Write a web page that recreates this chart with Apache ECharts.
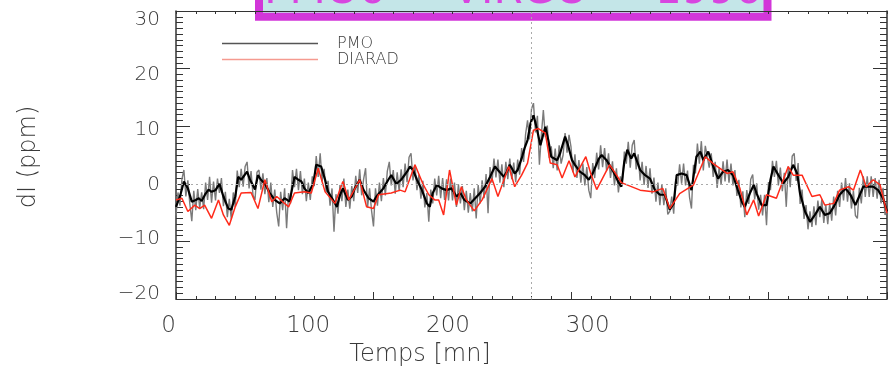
<!DOCTYPE html>
<html>
<head>
<meta charset="utf-8">
<script src="https://cdn.jsdelivr.net/npm/echarts@6/dist/echarts.min.js"></script>
<style>
  html, body { margin: 0; padding: 0; background: #fff; }
  #chart { width: 889px; height: 374px; }
</style>
</head>
<body>
<div id="chart"></div>
<script>
// Raw PMO irradiance deviation, one sample per minute (ppm)
const RAW_STEP = 1;
const pmoRaw = [
  -5.5, -1.5, -3.8, 0.8, 2.4, -2.2, 0.6, -3.5, -6.5, -1.2,
  -4.6, -0.9, -4.2, -1.5, -4.4, 0.2, -2.8, 1.2, -3.3, 0.4,
  -2.9, 0.9, -1.6, 1.0, -3.9, -1.4, -5.8, -2.6, -6.2, -1.5,
  -4.0, 2.3, -0.6, 2.6, -0.5, 3.0, 3.8, -0.8, 2.2, -2.0,
  -2.8, 2.0, 2.4, -1.0, 1.8, -1.8, 1.0, -3.2, 0.2, -4.0,
  -1.0, -5.0, -7.4, -1.4, -4.6, -0.8, -7.7, -1.6, -3.4, 2.4,
  -0.6, 2.6, -1.1, 2.2, -1.8, 0.9, -3.0, 0.2, -2.8, 1.3,
  -0.4, 4.8, 1.2, 5.3, 0.4, 2.6, -1.5, 0.5, -3.8, -0.8,
  -8.3, -1.8, -5.2, -0.2, -3.0, 0.9, -4.0, -1.0, -4.3, -0.4,
  -3.0, 1.4, -1.6, 2.5, -2.0, 0.8, 2.7, -4.1, -0.8, -4.6,
  -7.4, -0.8, -3.8, 0.2, -3.0, 1.0, -2.0, 2.2, 3.8, -0.3,
  2.4, -1.7, 2.0, -1.3, 2.5, -0.6, 3.5, 0.3, 4.6, 5.3,
  0.6, 3.3, -1.1, 1.6, -2.6, 0.5, -4.1, -1.6, -6.6, -1.0,
  -3.4, 0.9, -2.0, 1.4, -2.5, 1.0, -2.8, 0.8, -2.9, 0.9,
  -2.9, 0.2, -4.0, -0.1, -3.4, -0.4, -4.6, -1.2, -5.0, -1.6,
  -4.8, -0.8, -6.0, -0.2, -3.4, 0.6, -2.5, 1.7, -5.1, 2.9,
  0.2, 4.4, 1.1, 4.2, 0.2, 3.4, -0.6, 3.8, 0.8, 4.4,
  0.8, 3.7, 0.3, 4.2, 1.6, 6.2, 3.8, 8.6, 11.0, 7.7,
  13.0, 14.0, 8.9, 11.8, 3.3, 8.5, 12.8, 8.1, 10.1, 4.5,
  6.5, 2.7, 6.1, 2.3, 6.7, 3.5, 5.0, 8.8, 5.4, 8.5,
  6.4, 2.0, 5.1, 1.0, 4.1, 0.2, 3.5, -0.3, 2.9, -1.1,
  -2.5, 3.6, 1.0, 5.4, 2.5, 6.7, 2.9, 6.2, 2.3, 5.3,
  1.0, 3.9, -0.3, 2.7, -1.5, 1.3, -0.2, 5.6, 3.5, 7.3,
  2.8, 6.7, 7.6, 2.5, 5.1, 0.6, 3.8, -0.2, 3.1, -0.7,
  2.7, -1.7, 1.1, -3.1, 0.2, -3.7, -0.1, -3.7, -0.8, -5.3,
  -4.8, -2.2, -5.2, 0.8, -0.3, 3.4, 0.0, 3.5, -0.3, 2.3,
  -2.3, -4.3, 3.3, 1.8, 7.0, 3.5, 7.4, 2.3, 6.6, 6.7,
  2.8, 5.3, 1.2, 3.8, -0.7, 2.8, -0.2, 3.9, 0.4, 4.2,
  0.2, 3.5, -0.3, 2.4, -2.1, 0.7, -4.1, -1.3, -5.8, -1.1,
  -3.5, 0.8, 1.6, -2.7, 0.1, -4.5, -1.9, -5.5, -1.9, -7.2,
  0.3, -1.1, 4.0, 1.2, 4.0, -0.3, 2.8, -1.3, 1.9, -4.0,
  3.0, -0.6, 4.8, 5.3, 0.5, 3.6, -3.5, -1.0, -6.1, -3.7,
  -7.9, -4.8, -7.5, -3.9, -7.2, -2.9, -5.8, -2.7, -6.8, -3.6,
  -7.0, -3.3, -6.4, -2.2, -5.5, -1.2, -4.0, 0.2, -2.9, 1.0,
  -3.1, 0.1, -4.3, -1.2, -5.5, -6.0, -0.7, -3.4, 1.3, -2.3,
  1.3, -2.3, 1.3, -2.3, 1.0, -2.6, 0.7, -3.4, -0.7, -5.4, -4.8
];

// Smoothed PMO curve: time (mn) and deviation (ppm)
const pmoTimes = [
  0, 2, 4, 6, 8, 10, 11.5, 13, 15, 16.5, 18, 20, 22, 24, 26.5, 28, 30, 31.5, 33, 36,
  37.5, 40, 41.5, 43, 45, 47.5, 50, 52.5, 55, 57.5, 60, 62, 63.5, 65, 67, 69.5, 71, 73.5, 75.5, 77,
  80, 81.5, 83, 84.5, 87, 89, 90.5, 93, 95, 97.5, 100, 101.5, 103, 105, 107.5, 109, 111.5, 114, 117, 118.5,
  120, 122, 124.5, 127, 128.5, 130, 132, 134.5, 137, 139.5, 142, 144, 146, 149, 151.5, 154, 156.5, 159, 161.5, 163,
  166, 167.5, 169, 171.5, 173, 175, 176.5, 178, 179.5, 181, 182.5, 184.5, 187, 188.5, 190, 193, 194.5, 197, 198.5, 200.5,
  202, 204.5, 207, 209, 211, 214, 215.5, 218, 221.5, 224, 225.5, 227, 228.5, 230.5, 232, 235, 237.5, 240, 242.5, 245,
  247.5, 250, 252, 253.5, 256, 258.5, 261, 263.5, 265.5, 267, 269.5, 272, 274.5, 277, 279.5, 282, 284.5, 286.5, 288, 290.5,
  292.5, 294, 296.5, 299, 301, 302.5, 305, 307.5, 310, 312.5, 314.5, 316, 318.5, 321, 323.5, 326, 328.5, 331, 333.5, 336,
  339, 341.5, 344, 345.5, 348, 350.5, 353, 355.5, 358, 360
];
const pmoValues = [
  -4.0, -2.2, 0.4, -0.8, -3.1, -2.8, -2.5, -3.0, -1.7, -1.0, -1.4, -1.1, 0.0, -2.2, -4.3, -4.5, -2.2, 1.2, 0.7, 2.1,
  0.7, -1.0, 1.5, 0.7, 0.0, -1.6, -2.8, -3.4, -2.5, -3.1, 1.2, 0.7, 0.4, -0.8, -1.6, 0.0, 3.3, 3.0, 0.7, -1.4,
  -3.1, -4.0, -2.0, -0.8, -2.8, -2.2, -0.8, 0.7, -1.1, -2.5, -3.1, -2.2, -1.6, -0.8, 0.7, 1.5, 0.0, 0.7, 2.1, 3.0,
  2.4, 0.7, -1.1, -3.4, -4.0, -1.6, -0.2, -0.8, -1.1, -0.8, -2.2, -1.6, -2.8, -3.4, -2.5, -1.6, -0.5, 1.2, 3.0, 2.4,
  1.2, 2.1, 3.3, 1.8, 2.4, 4.4, 6.2, 7.6, 10.5, 11.9, 9.9, 6.7, 9.9, 7.6, 4.7, 4.1, 5.3, 8.2, 6.7, 4.1,
  3.3, 2.1, 1.5, 0.7, 1.8, 4.3, 5.0, 4.1, 2.1, 0.3, -0.5, 3.8, 5.9, 4.4, 5.3, 2.4, 1.5, 0.9, -1.1, -1.9,
  -1.9, -4.5, -3.4, 1.5, 1.8, 1.5, -1.1, 4.7, 5.6, 4.1, 5.6, 3.0, 0.9, 2.1, 2.4, 1.5, -1.1, -3.1, -4.0, -1.7,
  -0.2, -1.7, -3.7, -3.7, 0.7, 3.0, 1.5, 0.1, 1.2, 3.3, 1.8, -1.7, -4.8, -6.6, -5.4, -4.0, -5.4, -5.1, -3.7, -1.9,
  -0.8, -1.9, -3.7, -2.5, -0.5, -0.5, -0.5, -1.1, -2.5, -4.8
];

// DIARAD curve: time (mn) and deviation (ppm)
const diaradTimes = [
  0, 3, 6, 9.5, 12, 14.5, 18, 21.5, 24, 27, 30, 33, 38, 41.5, 45, 48.5, 51, 57, 60, 65,
  68.5, 72, 75.5, 80.5, 84.5, 87.5, 93, 96.5, 100, 102.5, 109, 113.5, 116, 121, 125, 128, 131, 133, 135.5, 138.5,
  142, 144.5, 147, 151, 155, 160, 163, 168.5, 171.5, 175, 178, 181, 183.5, 187, 189.5, 193, 195.5, 199, 202, 207.5,
  210, 213, 219.5, 222.5, 225.5, 235, 241.5, 246.5, 250, 255, 262, 268, 272, 279, 282, 285.5, 289, 292.5, 295, 299,
  304, 310, 312.5, 317, 322, 326, 328.5, 333, 336, 340.5, 343, 346.5, 349.5, 353, 356.5, 360
];
const diaradValues = [
  -2.8, -2.5, -4.8, -3.7, -4.3, -3.7, -6.0, -2.8, -5.4, -7.2, -4.0, -1.6, -1.5, -4.3, 0.7, -3.1, -2.2, -4.0, -1.6, -1.4,
  -1.6, 2.7, -1.4, -3.4, 0.4, -2.8, 0.7, -4.0, -4.3, -1.9, -1.6, -1.1, -1.4, 3.3, 0.0, -1.9, -2.8, -2.8, -5.4, 2.4,
  -3.7, -0.5, -2.8, -4.7, -2.8, 0.9, -2.2, 3.0, -0.5, 1.5, 3.6, 9.3, 9.6, 8.8, 3.6, 3.3, 1.0, 4.0, 1.2, 4.7,
  1.8, -1.0, 3.3, 1.8, 0.2, -1.1, -1.4, -0.8, -4.3, -1.7, -0.2, 4.7, 3.5, 1.8, 2.1, -0.8, -5.4, -2.8, -5.6, -1.9,
  -2.5, 3.0, 1.5, 1.5, -2.2, -1.9, -3.7, -3.4, -1.1, -0.5, -1.1, 2.4, -0.5, 0.7, -0.2, -5.1
];

// Axis ranges and tick labels
const timeRange = [0, 360];
const ppmRange = [-20, 30];
const timeTickLabels = [0, 100, 200, 300];
const ppmTickLabels = [-20, -10, 0, 10, 20, 30];

const pair = (ts, vs) => vs.map((v, i) => [ts[i], v]);
const rawData = pmoRaw.map((v, i) => [i * RAW_STEP, v]);

const FONT = '"DejaVu Sans", "Liberation Sans", sans-serif';
const INK = '#3a3a3a';
const FRAME = '#333';

const chart = echarts.init(document.getElementById('chart'), null, { renderer: 'canvas' });

// Frame axes: lines and inward ticks only, pinned to the grid edges
const frameAxisX = (pos, interval, len, showLine) => ({
  type: 'value', gridIndex: 0, position: pos,
  min: timeRange[0], max: timeRange[1], interval: interval,
  axisLine: { show: showLine, onZero: false, lineStyle: { color: FRAME, width: 1 } },
  axisTick: { show: true, inside: true, length: len, lineStyle: { color: FRAME, width: 1 } },
  axisLabel: { show: false }, splitLine: { show: false }
});
const frameAxisY = (pos, interval, len, showLine) => ({
  type: 'value', gridIndex: 0, position: pos,
  min: ppmRange[0], max: ppmRange[1], interval: interval,
  axisLine: { show: showLine, onZero: false, lineStyle: { color: FRAME, width: 1.5 } },
  axisTick: { show: true, inside: true, length: len, lineStyle: { color: FRAME, width: 1 } },
  axisLabel: { show: false }, splitLine: { show: false }
});

chart.setOption({
  animation: false,
  backgroundColor: '#ffffff',
  grid: [
    { left: 176, right: 2, top: 11, bottom: 75 },
    { left: 168.5, top: 20, width: 503, height: 274 }
  ],
  xAxis: [
    frameAxisX('bottom', 10, 3, true),
    frameAxisX('bottom', 100, 7, false),
    frameAxisX('top', 10, 3, true),
    {
      type: 'value', gridIndex: 1, position: 'bottom',
      min: timeRange[0], max: timeRange[1], interval: 100,
      axisLine: { show: false, onZero: false }, axisTick: { show: false }, splitLine: { show: false },
      axisLabel: {
        show: true, margin: 21, showMaxLabel: false,
        color: INK, fontFamily: FONT, fontWeight: 200, fontSize: 23,
        formatter: v => timeTickLabels.includes(v) ? String(v) : ''
      },
      name: 'Temps [mn]', nameLocation: 'middle', nameGap: 48,
      nameTextStyle: { color: INK, fontFamily: FONT, fontWeight: 200, fontSize: 24 }
    }
  ],
  yAxis: [
    frameAxisY('left', 1, 7, true),
    frameAxisY('left', 10, 14, false),
    frameAxisY('right', 1, 7, true),
    frameAxisY('right', 10, 14, false),
    {
      type: 'value', gridIndex: 1, position: 'left',
      min: ppmRange[0], max: ppmRange[1], interval: 10,
      axisLine: { show: false, onZero: false }, axisTick: { show: false }, splitLine: { show: false },
      axisLabel: {
        show: true, margin: 8.5,
        color: INK, fontFamily: FONT, fontWeight: 200, fontSize: 20,
        formatter: v => ppmTickLabels.includes(v) ? (v < 0 ? '\u2212' + Math.abs(v) : String(v)) : ''
      },
      name: 'dI (ppm)', nameLocation: 'middle', nameGap: 128, nameRotate: 90,
      nameTextStyle: { color: INK, fontFamily: FONT, fontWeight: 200, fontSize: 24 }
    }
  ],
  legend: {
    orient: 'vertical', left: 217, top: 30.5,
    itemWidth: 96, itemHeight: 1.5, itemGap: 0, icon: 'rect',
    selectedMode: false,
    textStyle: { color: INK, fontFamily: FONT, fontWeight: 200, fontSize: 16, lineHeight: 15, padding: [0, 0, 0, 14] },
    data: [
      { name: 'PMO', itemStyle: { color: '#555555' } },
      { name: 'DIARAD', itemStyle: { color: '#f59a90' } }
    ]
  },
  series: [
    {
      name: 'PMO brut', type: 'line', xAxisIndex: 0, yAxisIndex: 0,
      data: rawData, showSymbol: false, symbol: 'none',
      lineStyle: { color: '#7a7a7a', width: 1.4 }, z: 2,
      markLine: {
        silent: true, symbol: 'none', label: { show: false },
        lineStyle: { color: '#aaaaaa', type: [2, 3], width: 1 },
        data: [{ xAxis: 180 }, { yAxis: 0 }]
      }
    },
    {
      name: 'PMO', type: 'line', xAxisIndex: 0, yAxisIndex: 0,
      data: pair(pmoTimes, pmoValues), showSymbol: false, symbol: 'none',
      lineStyle: { color: '#000000', width: 2.2 }, z: 3
    },
    {
      name: 'DIARAD', type: 'line', xAxisIndex: 0, yAxisIndex: 0,
      data: pair(diaradTimes, diaradValues), showSymbol: false, symbol: 'none',
      lineStyle: { color: '#ff2a1a', width: 1.5 }, z: 4
    }
  ],
  graphic: [
    {
      type: 'group', z: 100,
      children: [
        {
          type: 'rect',
          shape: { x: 259, y: -30, width: 508.5, height: 46.8 },
          style: { fill: '#c4e6e8', stroke: '#d236d9', lineWidth: 8 }
        },
        {
          type: 'text', x: 513, y: 13,
          style: {
            text: 'PMO6     VIRGO     1996', fill: '#d845e0',
            font: 'normal 42px "DejaVu Sans", sans-serif',
            align: 'center', verticalAlign: 'bottom'
          }
        }
      ]
    }
  ]
});
</script>
</body>
</html>
